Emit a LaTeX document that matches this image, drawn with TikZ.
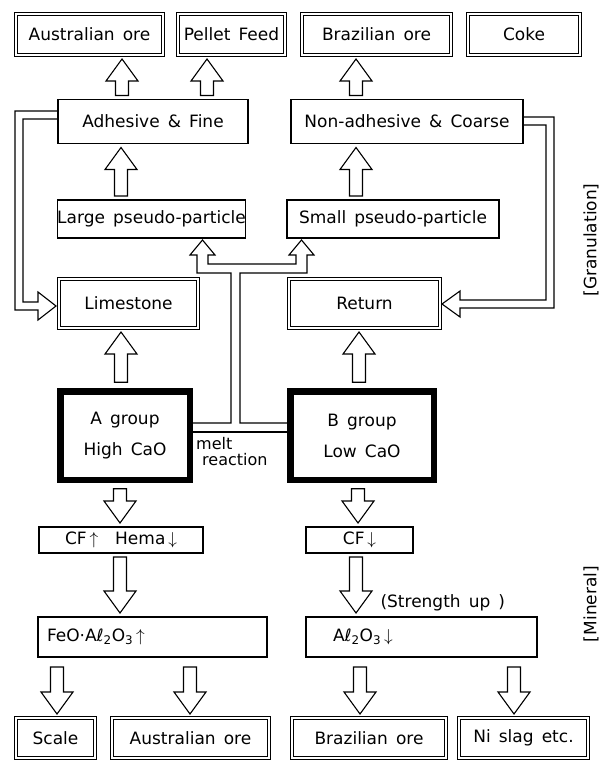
\documentclass[tikz,border=0pt]{standalone}
\usepackage{fontspec}
\setmainfont{DejaVu Sans}[WordSpace=1.5]
\usetikzlibrary{positioning}
\usetikzlibrary{calc}

\tikzset{
  every node/.style={font=\fontsize{17}{20}\selectfont},
  box/.style={draw, line width=1.1pt, inner sep=0pt, outer sep=0pt, minimum height=38pt},
  dbox/.style={draw, double, double distance=2.6pt, line width=0.9pt, inner sep=0pt, outer sep=0pt, minimum height=39pt},
  groupbox/.style={draw, line width=6.5pt, inner sep=0pt, outer sep=0pt, align=center,
    minimum height=88.5pt, font=\fontsize{17}{31}\selectfont},
  hollow/.style={draw, line width=1.1pt, fill=white},
  pipe/.style={draw, line width=1.1pt}
}

% hollow block arrow: [gap at tail]{tail}{tip}
\newcommand\blockarrow[3][4pt]{%
  \draw[hollow] let \p1=(#2), \p2=(#3), \n1={sign(\y2-\y1)} in
    ({\x2-6.5pt},{\y1+(\n1)*#1}) -- ({\x2-6.5pt},{\y2-(\n1)*26pt})
    -- ({\x2-16pt},{\y2-(\n1)*26pt}) -- ({\x2},{\y2-(\n1)*4pt})
    -- ({\x2+16pt},{\y2-(\n1)*26pt}) -- ({\x2+6.5pt},{\y2-(\n1)*26pt})
    -- ({\x2+6.5pt},{\y1+(\n1)*#1}) -- cycle;}

\begin{document}
\begin{tikzpicture}[x=1pt, y=-1pt]
  \useasboundingbox (0,0) rectangle (607,762);

  % raw materials
  \node[dbox, minimum width=147pt, minimum height=41pt] (aus) at (89.5,34.5) {Australian ore};
  \node[dbox, minimum width=107pt, minimum height=41pt, right=15pt of aus] (pellet) {Pellet Feed};
  \node[dbox, minimum width=149pt, minimum height=41pt, right=17pt of pellet] (braz) {Brazilian ore};
  \node[dbox, minimum width=112pt, minimum height=41pt, right=17pt of braz] (coke) {Coke};

  % granulation
  \node[box, minimum width=190pt, minimum height=44pt] (adh) at (153,121.5) {Adhesive \& Fine};
  \node[box, minimum width=232pt, minimum height=44pt] (nonadh) at (407,121.5) {Non-adhesive \& Coarse};
  \node[box, minimum width=187pt] (large) at (151.5,219) {Large pseudo-particle};
  \node[box, minimum width=212pt] (small) at (393,219) {Small pseudo-particle};
  \node[dbox, minimum width=139pt, minimum height=49pt] (lime) at (128.5,303.5) {Limestone};
  \node[dbox, minimum width=151pt, minimum height=49pt] (ret) at (364.5,303.5) {Return};

  \blockarrow{122,0 |- adh.north}{122,0 |- aus.south}
  \blockarrow{207,0 |- adh.north}{207,0 |- pellet.south}
  \blockarrow{356,0 |- nonadh.north}{356,0 |- braz.south}
  \blockarrow{121,0 |- large.north}{121,0 |- adh.south}
  \blockarrow{356,0 |- small.north}{356,0 |- nonadh.south}

  \draw[pipe] ($(adh.west)+(0,-10.5)$) -- (15,111) -- (15,310) -- (38,310) -- (38,320)
    -- ($(lime.west)+(-3,2.5)$) -- (38,292) -- (38,302) -- (23,302) -- (23,119)
    -- ($(adh.west)+(0,-2.5)$);
  \draw[pipe] ($(nonadh.east)+(0,-4.5)$) -- (554,117) -- (554,308) -- (460,308) -- (460,317)
    -- ($(ret.east)+(2,0.5)$) -- (460,291) -- (460,300) -- (546,300) -- (546,125)
    -- ($(nonadh.east)+(0,3.5)$);

  % sintering groups
  \node[groupbox, minimum width=129.5pt] (agroup) at (125,435.5) {A group\\High CaO};
  \node[groupbox, minimum width=143.5pt] (bgroup) at (362,435.5) {B group\\Low CaO};
  \draw[pipe] (agroup.east |- 0,432) -- (bgroup.west |- 0,432);
  \draw[pipe] (agroup.east |- 0,423) -- (231,423) -- (231,273) -- (197,273) -- (197,255)
    -- (190,255) -- (202.5,240) -- (215,255) -- (208,255) -- (208,264) -- (296,264)
    -- (296,255) -- (289,255) -- (301.5,240) -- (314,255) -- (307,255) -- (307,273)
    -- (240,273) -- (240,423) -- (bgroup.west |- 0,423);
  \node[anchor=north west, align=left, inner sep=0pt, font=\fontsize{16}{16.5}\selectfont]
    (melt) at (196,437) {melt\\\hspace{6pt}reaction};

  \blockarrow[9pt]{121,0 |- agroup.north}{121,0 |- lime.south}
  \blockarrow[9pt]{359,0 |- bgroup.north}{359,0 |- ret.south}

  % mineral
  \node[box, minimum width=164pt, minimum height=26pt] (cf1) at (121,540) {CF\,$\uparrow$\quad Hema\,$\downarrow$};
  \node[box, minimum width=107pt, minimum height=26pt] (cf2) at (359.5,540) {CF\,$\downarrow$};
  \node[box, minimum width=229pt, minimum height=40pt, inner xsep=9pt, text width=211pt, align=left]
    (feo) at (152.5,637) {FeO·Aℓ\textsubscript{2}O\textsubscript{3}\,$\uparrow$};
  \node[box, minimum width=231pt, minimum height=40pt, inner xsep=27pt, text width=177pt, align=left]
    (al) at (421.5,637) {Aℓ\textsubscript{2}O\textsubscript{3}\,$\downarrow$};
  \node[anchor=west] (strength) at (377,603) {(Strength up )};

  \blockarrow[9pt]{120,0 |- agroup.south}{120,0 |- cf1.north}
  \blockarrow[9pt]{358,0 |- bgroup.south}{358,0 |- cf2.north}
  \blockarrow{120,0 |- cf1.south}{120,0 |- feo.north}
  \blockarrow{356,0 |- cf2.south}{356,0 |- al.north}

  % products
  \node[dbox, minimum width=79pt, minimum height=40pt] (scale) at (55.5,738) {Scale};
  \node[dbox, minimum width=157pt, minimum height=40pt, right=17pt of scale] (aus2) {Australian ore};
  \node[dbox, minimum width=154pt, minimum height=40pt, right=23pt of aus2] (braz2) {Brazilian ore};
  \node[dbox, minimum width=129pt, minimum height=40pt, right=13pt of braz2] (ni) {Ni slag etc.};

  \blockarrow[10pt]{57,0 |- feo.south}{57,0 |- scale.north}
  \blockarrow[10pt]{190,0 |- feo.south}{190,0 |- aus2.north}
  \blockarrow[10pt]{360,0 |- al.south}{360,0 |- braz2.north}
  \blockarrow[10pt]{514,0 |- al.south}{514,0 |- ni.north}

  \node[rotate=90] (gran) at (591,240) {[Granulation]};
  \node[rotate=90] (mineral) at (591,604) {[Mineral]};
\end{tikzpicture}
\end{document}
